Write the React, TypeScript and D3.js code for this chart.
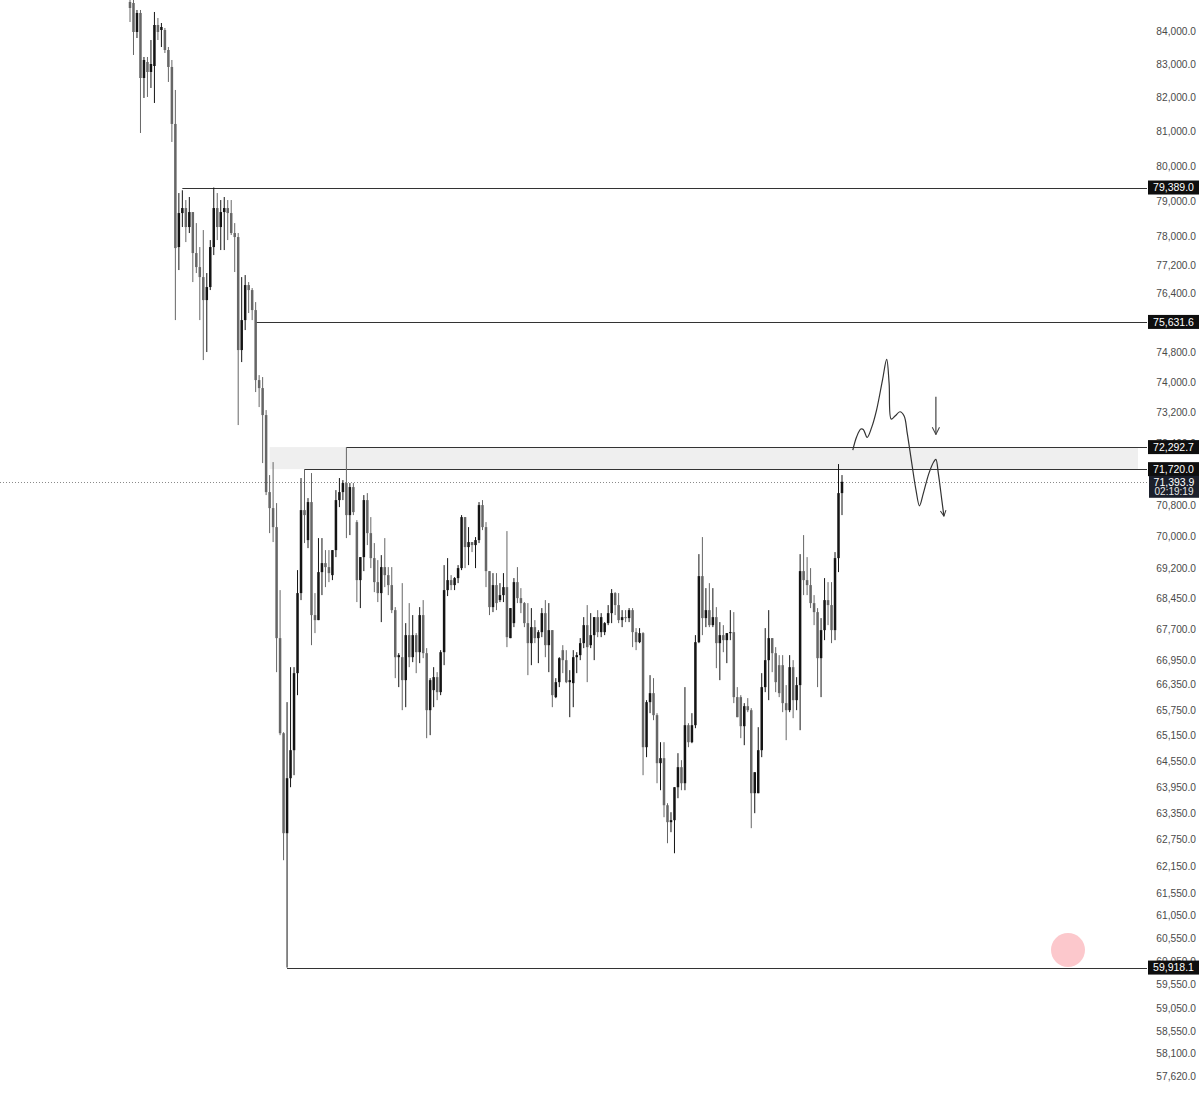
import React from 'react';
import * as d3 from 'd3';

// OHLC values, one entry per candle (oldest -> newest)
const opens = [
  84884, 84853, 83970, 84548, 82588, 83066, 82767, 82946, 84182, 84030,
  84030, 83426, 82917, 81230, 77702, 78661, 78803, 78265, 78689, 77534,
  77143, 76865, 76230, 76589, 77702, 78803, 78265, 78689, 78803, 78661,
  78096, 77983, 74868, 75682, 76644, 76506, 75956, 74062, 73848, 73133,
  71129, 70719, 70236, 67479, 65204, 62894, 64154, 64806, 66632, 68584,
  70668, 69908, 70873, 68042, 67919, 69105, 69330, 69230, 69030, 69656,
  70924, 71129, 71361, 70541, 71258, 70363, 68906, 69480, 70924, 70084,
  69455, 68856, 68584, 69230, 69030, 68782, 68164, 67017, 67017, 66464,
  67552, 67017, 67552, 67138, 68042, 67114, 65748, 66225, 66536, 66177,
  67138, 68658, 68906, 68782, 68956, 69205, 70490, 69732, 69858, 69782,
  69908, 70796, 70236, 69130, 68238, 68782, 68411, 68534, 68732, 67479,
  67845, 68856, 68460, 68337, 67845, 67357, 67747, 67479, 67625, 68090,
  67308, 67674, 66058, 66416, 67187, 66945, 66416, 66392, 67017, 67066,
  67357, 67796, 67308, 67552, 67992, 67625, 67625, 67845, 68090, 68584,
  68288, 67919, 67992, 67968, 68164, 67625, 67381, 67601, 64876, 65939,
  66153, 65630, 64503, 64620, 63532, 63145, 63190, 63946, 64410, 64038,
  65393, 64993, 65393, 67381, 69005, 67968, 68164, 67796, 67992, 67357,
  67552, 67430, 67601, 67625, 66058, 66058, 65369, 65843, 65748, 63808,
  63808, 64806, 66297, 66945, 67479, 67114, 66824, 66824, 65915, 65748,
  66776, 65986, 66345, 69130, 68906, 68782, 68337, 68115, 66993, 67674,
  68411, 68288, 67674, 69455, 71103,
];

const highs = [
  85190, 84945, 84639, 84639, 83216, 83216, 83727, 84578, 84395, 84243,
  84091, 83516, 83126, 82232, 79231, 79310, 79031, 79117, 78689, 78377,
  77702, 78180, 76977, 77898, 79389, 79231, 79031, 79117, 79031, 79031,
  78377, 78096, 76865, 76921, 76727, 76561, 76175, 74195, 74142, 73265,
  71567, 71903, 70847, 68658, 65228, 65939, 66776, 66776, 69155, 71490,
  71720, 70975, 71619, 68584, 69958, 69958, 69656, 69656, 69656, 71180,
  71490, 71438, 72292.7, 71361, 71361, 70414, 69480, 71052, 71103, 70490,
  69833, 69405, 69530, 69958, 69230, 69230, 68238, 67114, 68831, 67845,
  68337, 68042, 67601, 68238, 68411, 67236, 66512, 66776, 66656, 67187,
  69280, 69455, 69030, 68980, 69280, 70541, 70490, 70236, 69858, 69984,
  70873, 70924, 70363, 69130, 69080, 69080, 68831, 69080, 70135, 68214,
  68956, 69230, 68707, 68362, 68337, 68214, 67919, 67674, 68214, 68411,
  68337, 67674, 66512, 67017, 67308, 67187, 66704, 67187, 67138, 67479,
  67992, 68288, 68090, 67992, 68164, 68090, 67870, 68288, 68683, 68608,
  68584, 68164, 68164, 68214, 68214, 67723, 67723, 67625, 65986, 66584,
  66512, 65677, 64993, 64993, 63578, 63372, 63946, 64736, 64573, 66297,
  65440, 65677, 67552, 69555, 69984, 68707, 68831, 68707, 68238, 67870,
  67796, 67601, 68164, 68115, 66297, 66105, 65915, 66034, 65796, 64293,
  65346, 66632, 67723, 68164, 67479, 67260, 67066, 67066, 66345, 67066,
  66945, 66536, 69555, 70034, 69480, 69205, 68534, 68214, 67968, 68956,
  68856, 68856, 69606, 71851, 71567,
];

const lows = [
  84273, 83276, 83788, 80966, 81995, 82025, 82291, 81847, 83727, 83516,
  83336, 82470, 80704, 75682, 77060, 78265, 77842, 78096, 76727, 76977,
  75682, 74598, 74814, 76506, 77478, 77898, 77618, 77618, 77898, 78040,
  77005, 72870, 74544, 75410, 75874, 75682, 73742, 73344, 71877, 71052,
  70084, 69858, 66656, 65158, 62284, 59918.1, 63946, 64224, 66105, 68411,
  69833, 69706, 67308, 67601, 67919, 68534, 68732, 68856, 68906, 69480,
  70745, 70924, 69958, 70034, 70541, 68362, 68214, 69130, 69782, 69205,
  68608, 68362, 67870, 68732, 68534, 68090, 66512, 66297, 65748, 65819,
  66776, 66897, 66632, 66873, 66993, 65087, 65158, 65819, 65986, 66105,
  66824, 68510, 68658, 68658, 68831, 69155, 69205, 69280, 69606, 69205,
  69833, 70160, 68732, 68042, 68115, 68164, 68362, 68362, 67260, 67479,
  67747, 68337, 68090, 67747, 66584, 66824, 67357, 66873, 67503, 67017,
  66656, 65819, 66034, 66297, 66632, 66392, 65582, 65819, 66632, 66945,
  67236, 66416, 67236, 66945, 67503, 67503, 67552, 67796, 67845, 68042,
  67845, 67747, 67870, 67870, 67260, 67187, 67357, 64224, 64643, 65677,
  65511, 64038, 63877, 63258, 62667, 62917, 62441, 63693, 63877, 63877,
  64876, 64970, 65322, 67357, 67552, 67747, 67747, 67747, 66752, 66464,
  67138, 66873, 67430, 65915, 65582, 65087, 64923, 65701, 63008, 63350,
  63808, 64643, 66177, 65986, 66656, 66177, 66058, 65701, 65040, 65701,
  65558, 65748, 65275, 68534, 68534, 68214, 67796, 66297, 66058, 67430,
  67796, 67357, 67430, 69105, 70541,
];

const closes = [
  84700, 83970, 84548, 82588, 83126, 82767, 83006, 84182, 83970, 84121,
  83426, 82917, 81230, 77674, 78661, 78803, 78265, 78689, 77534, 77143,
  76865, 76230, 76589, 77702, 78803, 78265, 78689, 78803, 78661, 78096,
  77983, 74868, 75682, 76644, 76506, 75956, 74062, 73848, 73133, 71129,
  70719, 70236, 67479, 65204, 62894, 64154, 64806, 66632, 68584, 70668,
  70541, 70873, 68042, 67919, 69105, 69330, 69230, 69080, 69656, 70924,
  71129, 71361, 70541, 71258, 70617, 68906, 69480, 70924, 70084, 69455,
  68856, 68584, 69230, 69030, 68782, 68164, 67017, 67066, 66464, 67552,
  67017, 67552, 67138, 68042, 67114, 65748, 66464, 66536, 66177, 67138,
  68658, 68906, 68782, 68956, 69205, 70490, 69732, 69858, 69782, 69908,
  70796, 70236, 69130, 68238, 68782, 68337, 68534, 68732, 67503, 68214,
  68856, 68460, 68337, 67845, 67357, 67747, 67479, 67625, 68090, 67308,
  67674, 66105, 66416, 66993, 66945, 66416, 66464, 67017, 67066, 67357,
  67796, 67260, 67552, 67992, 67625, 67992, 67845, 68090, 68584, 68288,
  67919, 67992, 67968, 68164, 67625, 67381, 67601, 64876, 65939, 66153,
  65630, 64503, 64620, 63532, 63145, 63190, 63946, 64410, 64038, 65393,
  64993, 65393, 67381, 69005, 67968, 68164, 67796, 67992, 67357, 67552,
  67430, 67601, 67625, 66058, 65582, 65369, 65843, 65748, 63808, 64293,
  64806, 66297, 66945, 67479, 67114, 66416, 66153, 65915, 65748, 66776,
  65986, 66345, 69130, 68906, 68782, 68337, 68115, 66993, 67674, 68411,
  68288, 67674, 69455, 71103, 71393.9,
];

// Price axis ticks (visible in the reference)
const yTicks = [
  84000, 83000, 82000, 81000, 80000, 79000, 78000, 77200, 76400,
  74800, 74000, 73200, 72400, 70800, 70000, 69200, 68450, 67700, 66950,
  66350, 65750, 65150, 64550, 63950, 63350, 62750, 62150, 61550, 61050, 60550,
  60050, 59550, 59050, 58550, 58100, 57620,
];

// Horizontal levels (price, starting bar)
const levelPrices = [79389.0, 75631.6, 72292.7, 71720.0, 59918.1];
const levelStartBars = [15, 36, 62, 50, 45];

// Shaded zone
const zonePrices = [72292.7, 71720.0];
const zoneStartBar = 40;

const lastPrice = 71393.9;
const countdown = '02:19:19';

// Hand-drawn projection (bar position, price)
const sketchBars = [207.1, 208.2, 209.4, 210.1, 211.2, 212.5, 213.9, 215.6, 216.8, 217.5, 218.1, 219.2, 220.6, 221.8, 222.7, 224.0, 225.2, 226.2, 227.3, 228.9, 230.3, 230.9, 231.6, 232.6, 233.2];
const sketchPrices = [72215, 72562, 72764, 72756, 72547, 72809, 73265, 74062, 74617, 73974, 73027, 73107, 73220, 73107, 72652, 71870, 71180, 70778, 71095, 71611, 71911, 71973, 71611, 70924, 70515];
const arrowBar = 230.9;
const arrowPrices = [73617, 72625];

const W = 1200;
const H = 1093;

const fmt = (v: number) => d3.format(',.1f')(v);

export default function App() {
  const x = d3.scaleLinear().domain([0, opens.length - 1]).range([130, 842]);
  const y = d3.scaleLog().domain([84000, 57620]).range([31, 1076]);
  const plotRight = 1147;
  const zoneRight = 1138;
  const boxX = 1148;
  const boxW = 51;
  const font = '"Liberation Sans", Arial, Helvetica, sans-serif';

  const sketchLine = d3
    .line<number>()
    .x((_, i) => x(sketchBars[i]))
    .y((p) => y(p))
    .curve(d3.curveCatmullRom.alpha(0.5));

  const bodyW = 2.5;

  return (
    <div style={{ position: 'absolute', left: 0, top: 0 }}>
      <svg width={W} height={H} style={{ display: 'block', background: '#fff' }}>
        <defs>
          <marker id="ah" viewBox="0 0 10 10" refX="9" refY="5" markerWidth="7" markerHeight="7" markerUnits="userSpaceOnUse" orient="auto">
            <path d="M1,1 L9,5 L1,9" fill="none" stroke="#333" strokeWidth="1.4" />
          </marker>
          <marker id="ah2" viewBox="0 0 10 10" refX="9" refY="5" markerWidth="9" markerHeight="9" markerUnits="userSpaceOnUse" orient="auto">
            <path d="M1,1 L9,5 L1,9" fill="none" stroke="#444" strokeWidth="1.2" />
          </marker>
        </defs>
        <rect x={0} y={0} width={W} height={H} fill="#fff" />

        {/* shaded zone */}
        <rect
          x={x(zoneStartBar)}
          y={y(zonePrices[0])}
          width={zoneRight - x(zoneStartBar)}
          height={y(zonePrices[1]) - y(zonePrices[0])}
          fill="#efefef"
        />

        {/* levels */}
        {levelPrices.map((p, i) => (
          <line
            key={'lv' + i}
            x1={x(levelStartBars[i])}
            x2={plotRight}
            y1={Math.round(y(p)) + 0.5}
            y2={Math.round(y(p)) + 0.5}
            stroke="#333"
            strokeWidth={1}
          />
        ))}

        {/* last price dotted line */}
        <line
          x1={0}
          x2={plotRight}
          y1={Math.round(y(lastPrice)) + 0.5}
          y2={Math.round(y(lastPrice)) + 0.5}
          stroke="#8a8a8a"
          strokeWidth={1}
          strokeDasharray="1 2"
        />

        {/* candles */}
        {opens.map((o, i) => {
          const c = closes[i];
          const cx = x(i);
          const up = c >= o;
          const col = up ? '#141414' : '#666';
          const yt = y(Math.max(o, c));
          const yb = y(Math.min(o, c));
          return (
            <g key={'c' + i}>
              <line x1={cx} x2={cx} y1={y(highs[i])} y2={y(lows[i])} stroke={col} strokeWidth={1} />
              <rect x={cx - bodyW / 2} y={yt} width={bodyW} height={Math.max(1, yb - yt)} fill={col} />
            </g>
          );
        })}

        {/* sketch */}
        <path d={sketchLine(sketchPrices) || ''} fill="none" stroke="#333" strokeWidth={1.2} markerEnd="url(#ah)" />
        <line
          x1={x(arrowBar)}
          x2={x(arrowBar)}
          y1={y(arrowPrices[0])}
          y2={y(arrowPrices[1])}
          stroke="#444"
          strokeWidth={1.2}
          markerEnd="url(#ah2)"
        />

        {/* axis tick labels */}
        {yTicks.map((t) => (
          <text
            key={'t' + t}
            x={1196}
            y={y(t)}
            dy="0.35em"
            textAnchor="end"
            fontFamily={font}
            fontSize={10.2}
            fill="#4a4a4a"
          >
            {fmt(t)}
          </text>
        ))}

        {/* level labels */}
        {levelPrices.map((p, i) => (
          <g key={'lb' + i}>
            <rect x={boxX} y={y(p) - 7} width={boxW} height={14} fill="#0e0e0e" />
            <text x={boxX + boxW / 2} y={y(p)} dy="0.36em" textAnchor="middle" fontFamily={font} fontSize={10.5} fill="#fff">
              {fmt(p)}
            </text>
          </g>
        ))}

        {/* last price label */}
        <g>
          <rect x={boxX + 1} y={y(lastPrice) - 6} width={boxW - 1} height={22} fill="#1b1f2b" />
          <text x={boxX + boxW / 2 + 0.5} y={y(lastPrice)} dy="0.36em" textAnchor="middle" fontFamily={font} fontSize={10.5} fill="#fff">
            {fmt(lastPrice)}
          </text>
          <text x={boxX + boxW / 2 + 0.5} y={y(lastPrice) + 10} dy="0.36em" textAnchor="middle" fontFamily={font} fontSize={10} fill="#e6e6e6">
            {countdown}
          </text>
        </g>

        {/* marker circle */}
        <circle cx={1068} cy={950} r={17} fill="#fcc8cc" />
      </svg>
    </div>
  );
}
